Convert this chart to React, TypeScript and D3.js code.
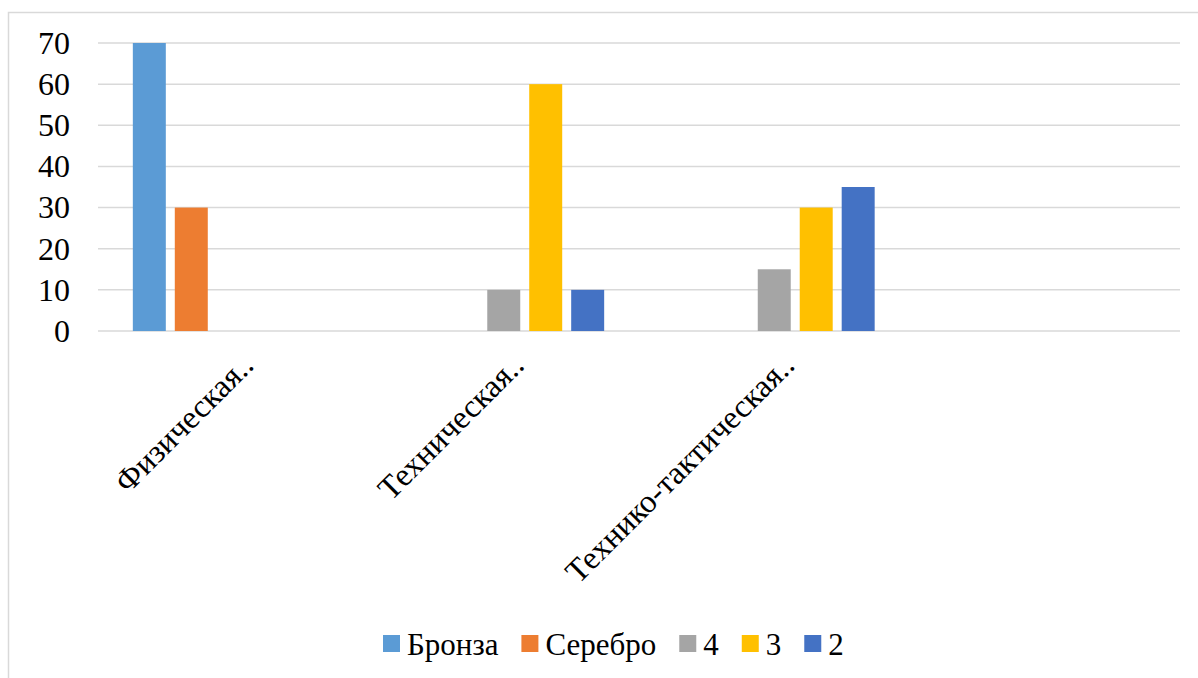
import * as d3 from "d3";
import React, { useEffect, useRef } from "react";

const categories = ["Физическая..", "Техническая..", "Технико-тактическая..", ""];
const seriesNames = ["Бронза", "Серебро", "4", "3", "2"];
const seriesColors = ["#5B9BD5", "#ED7D31", "#A5A5A5", "#FFC000", "#4472C4"];
// values per series, one per category
const bronze = [70, 0, 0, null];
const silver = [30, 0, 0, null];
const four = [0, 10, 15, null];
const three = [0, 60, 30, null];
const two = [0, 10, 35, null];
const yTicks = [0, 10, 20, 30, 40, 50, 60, 70];

export default function App() {
  const ref = useRef<SVGSVGElement>(null);
  const width = 1198;
  const height = 678;

  useEffect(() => {
    const svg = d3.select(ref.current);
    svg.selectAll("*").remove();
    const font = '"Times New Roman", "Liberation Serif", "DejaVu Serif", serif';

    // chart frame
    svg
      .append("rect")
      .attr("x", 8.5)
      .attr("y", 12.5)
      .attr("width", 1200)
      .attr("height", 700)
      .attr("fill", "#fff")
      .attr("stroke", "#d9d9d9")
      .attr("stroke-width", 1.5);

    const left = 98;
    const right = 1180;
    const y = d3.scaleLinear().domain([0, 70]).range([331, 43]);
    const x0 = d3.scaleBand().domain(categories.map((c, i) => i + "")).range([left, right]);
    const x1 = d3
      .scaleBand()
      .domain(seriesNames)
      .range([0, x0.bandwidth()])
      .paddingInner(0.214)
      .paddingOuter(0.83);

    // gridlines
    svg
      .append("g")
      .selectAll("line")
      .data(yTicks)
      .join("line")
      .attr("x1", left)
      .attr("x2", right)
      .attr("y1", (d) => y(d))
      .attr("y2", (d) => y(d))
      .attr("stroke", "#d9d9d9")
      .attr("stroke-width", 1.5);

    svg
      .append("g")
      .attr("font-family", font)
      .attr("font-size", 32)
      .attr("text-anchor", "end")
      .selectAll("text")
      .data(yTicks)
      .join("text")
      .attr("x", 70)
      .attr("y", (d) => y(d))
      .attr("dy", "0.34em")
      .attr("fill", "#000")
      .text((d) => d);

    const allSeries = [bronze, silver, four, three, two];
    const bars = [];
    allSeries.forEach((vals, si) => {
      vals.forEach((v, ci) => {
        if (v) bars.push({ s: seriesNames[si], c: ci + "", v, color: seriesColors[si] });
      });
    });

    svg
      .append("g")
      .selectAll("rect")
      .data(bars)
      .join("rect")
      .attr("x", (d) => x0(d.c) + x1(d.s))
      .attr("width", x1.bandwidth())
      .attr("y", (d) => y(d.v))
      .attr("height", (d) => y(0) - y(d.v))
      .attr("fill", (d) => d.color);

    // category labels
    svg
      .append("g")
      .attr("font-family", font)
      .attr("font-size", 32.5)
      .attr("text-anchor", "end")
      .selectAll("text")
      .data(categories.map((c, i) => ({ c, i })))
      .join("text")
      .attr("transform", (d) => {
        const cx = x0(d.i + "") + x0.bandwidth() / 2 + 22;
        return `translate(${cx},367) rotate(-45)`;
      })
      .attr("fill", "#000")
      .text((d) => d.c);

    // legend
    const lg = svg.append("g").attr("font-family", font).attr("font-size", 31);
    let lx = 383;
    seriesNames.forEach((name, i) => {
      lg.append("rect")
        .attr("x", lx)
        .attr("y", 635)
        .attr("width", 17)
        .attr("height", 17)
        .attr("fill", seriesColors[i]);
      const t = lg
        .append("text")
        .attr("x", lx + 24)
        .attr("y", 655)
        .attr("fill", "#000")
        .text(name);
      const w = (t.node() as SVGTextElement).getComputedTextLength();
      lx = lx + 24 + w + 23;
    });
  }, []);

  return (
    <svg
      ref={ref}
      width={width}
      height={height}
      style={{ position: "absolute", left: 0, top: 0, background: "#fff" }}
    />
  );
}
